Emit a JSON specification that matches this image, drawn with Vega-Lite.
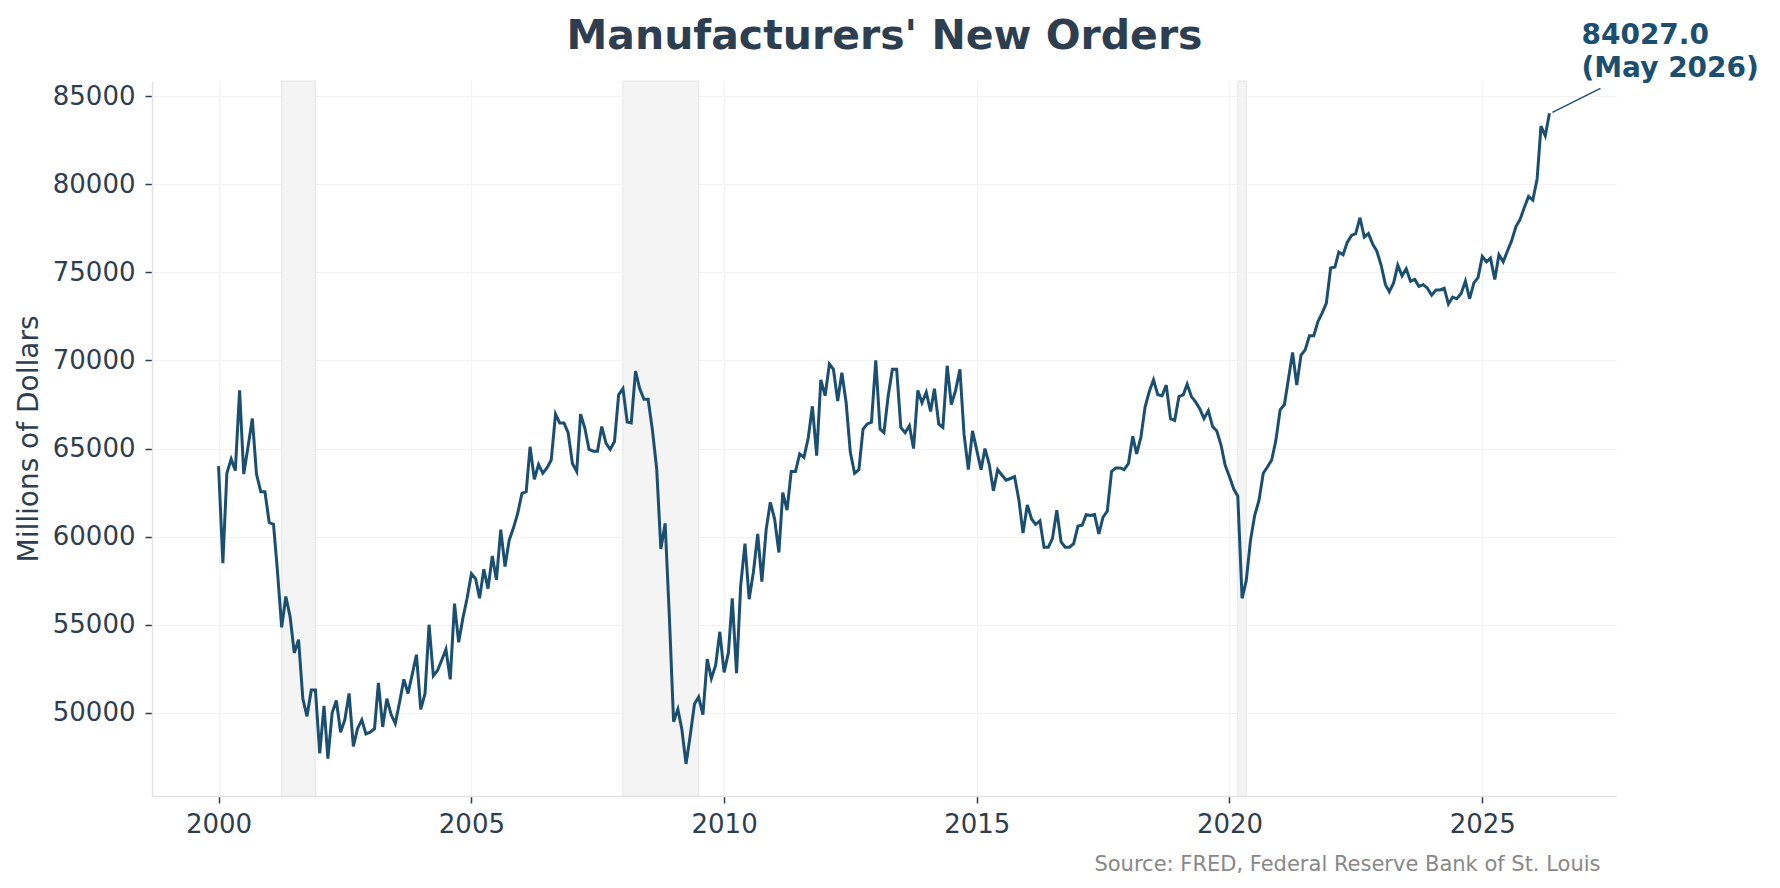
{
  "$schema": "https://vega.github.io/schema/vega-lite/v6.json",
  "autosize": {"type": "none"},
  "width": 1464,
  "height": 715,
  "padding": {"left": 152, "top": 81, "right": 164, "bottom": 92},
  "background": "white",
  "data": {
    "name": "orders",
    "format": {"parse": {"date": "date:'%Y-%m'", "rec_end": "date:'%Y-%m'"}}
  },
  "datasets": {
    "orders": [
      {"date": "2000-01", "value": 64000}, {"date": "2000-02", "value": 58500}, {"date": "2000-03", "value": 63600}, {"date": "2000-04", "value": 64400},
      {"date": "2000-05", "value": 63750}, {"date": "2000-06", "value": 68300}, {"date": "2000-07", "value": 63550}, {"date": "2000-08", "value": 65100},
      {"date": "2000-09", "value": 66700}, {"date": "2000-10", "value": 63550}, {"date": "2000-11", "value": 62550}, {"date": "2000-12", "value": 62550},
      {"date": "2001-01", "value": 60800}, {"date": "2001-02", "value": 60700}, {"date": "2001-03", "value": 58100}, {"date": "2001-04", "value": 54850, "rec_end": "2001-12"},
      {"date": "2001-05", "value": 56600}, {"date": "2001-06", "value": 55450}, {"date": "2001-07", "value": 53400}, {"date": "2001-08", "value": 54150},
      {"date": "2001-09", "value": 50800}, {"date": "2001-10", "value": 49800}, {"date": "2001-11", "value": 51300}, {"date": "2001-12", "value": 51300},
      {"date": "2002-01", "value": 47700}, {"date": "2002-02", "value": 50400}, {"date": "2002-03", "value": 47400}, {"date": "2002-04", "value": 50000},
      {"date": "2002-05", "value": 50700}, {"date": "2002-06", "value": 48900}, {"date": "2002-07", "value": 49600}, {"date": "2002-08", "value": 51100},
      {"date": "2002-09", "value": 48100}, {"date": "2002-10", "value": 49100}, {"date": "2002-11", "value": 49600}, {"date": "2002-12", "value": 48800},
      {"date": "2003-01", "value": 48900}, {"date": "2003-02", "value": 49100}, {"date": "2003-03", "value": 51700}, {"date": "2003-04", "value": 49200},
      {"date": "2003-05", "value": 50800}, {"date": "2003-06", "value": 49900}, {"date": "2003-07", "value": 49400}, {"date": "2003-08", "value": 50600},
      {"date": "2003-09", "value": 51900}, {"date": "2003-10", "value": 51100}, {"date": "2003-11", "value": 52200}, {"date": "2003-12", "value": 53300},
      {"date": "2004-01", "value": 50200}, {"date": "2004-02", "value": 51100}, {"date": "2004-03", "value": 55000}, {"date": "2004-04", "value": 52100},
      {"date": "2004-05", "value": 52400}, {"date": "2004-06", "value": 53000}, {"date": "2004-07", "value": 53600}, {"date": "2004-08", "value": 51900},
      {"date": "2004-09", "value": 56200}, {"date": "2004-10", "value": 54000}, {"date": "2004-11", "value": 55400}, {"date": "2004-12", "value": 56500},
      {"date": "2005-01", "value": 57900}, {"date": "2005-02", "value": 57600}, {"date": "2005-03", "value": 56500}, {"date": "2005-04", "value": 58150},
      {"date": "2005-05", "value": 57050}, {"date": "2005-06", "value": 58900}, {"date": "2005-07", "value": 57550}, {"date": "2005-08", "value": 60400},
      {"date": "2005-09", "value": 58300}, {"date": "2005-10", "value": 59800}, {"date": "2005-11", "value": 60500}, {"date": "2005-12", "value": 61300},
      {"date": "2006-01", "value": 62450}, {"date": "2006-02", "value": 62550}, {"date": "2006-03", "value": 65100}, {"date": "2006-04", "value": 63250},
      {"date": "2006-05", "value": 64100}, {"date": "2006-06", "value": 63600}, {"date": "2006-07", "value": 63900}, {"date": "2006-08", "value": 64350},
      {"date": "2006-09", "value": 66950}, {"date": "2006-10", "value": 66450}, {"date": "2006-11", "value": 66450}, {"date": "2006-12", "value": 65900},
      {"date": "2007-01", "value": 64150}, {"date": "2007-02", "value": 63700}, {"date": "2007-03", "value": 66950}, {"date": "2007-04", "value": 66150},
      {"date": "2007-05", "value": 64950}, {"date": "2007-06", "value": 64850}, {"date": "2007-07", "value": 64850}, {"date": "2007-08", "value": 66250},
      {"date": "2007-09", "value": 65300}, {"date": "2007-10", "value": 64950}, {"date": "2007-11", "value": 65400}, {"date": "2007-12", "value": 68050},
      {"date": "2008-01", "value": 68400, "rec_end": "2009-07"}, {"date": "2008-02", "value": 66500}, {"date": "2008-03", "value": 66450}, {"date": "2008-04", "value": 69400},
      {"date": "2008-05", "value": 68400}, {"date": "2008-06", "value": 67800}, {"date": "2008-07", "value": 67800}, {"date": "2008-08", "value": 66050},
      {"date": "2008-09", "value": 63850}, {"date": "2008-10", "value": 59300}, {"date": "2008-11", "value": 60750}, {"date": "2008-12", "value": 55550},
      {"date": "2009-01", "value": 49500}, {"date": "2009-02", "value": 50200}, {"date": "2009-03", "value": 49100}, {"date": "2009-04", "value": 47100},
      {"date": "2009-05", "value": 48700}, {"date": "2009-06", "value": 50500}, {"date": "2009-07", "value": 50900}, {"date": "2009-08", "value": 49900},
      {"date": "2009-09", "value": 53050}, {"date": "2009-10", "value": 51950}, {"date": "2009-11", "value": 52700}, {"date": "2009-12", "value": 54600},
      {"date": "2010-01", "value": 52300}, {"date": "2010-02", "value": 53400}, {"date": "2010-03", "value": 56500}, {"date": "2010-04", "value": 52250},
      {"date": "2010-05", "value": 57250}, {"date": "2010-06", "value": 59600}, {"date": "2010-07", "value": 56450}, {"date": "2010-08", "value": 58000},
      {"date": "2010-09", "value": 60150}, {"date": "2010-10", "value": 57450}, {"date": "2010-11", "value": 60400}, {"date": "2010-12", "value": 61950},
      {"date": "2011-01", "value": 61000}, {"date": "2011-02", "value": 59100}, {"date": "2011-03", "value": 62500}, {"date": "2011-04", "value": 61500},
      {"date": "2011-05", "value": 63700}, {"date": "2011-06", "value": 63700}, {"date": "2011-07", "value": 64700}, {"date": "2011-08", "value": 64500},
      {"date": "2011-09", "value": 65600}, {"date": "2011-10", "value": 67400}, {"date": "2011-11", "value": 64600}, {"date": "2011-12", "value": 68900},
      {"date": "2012-01", "value": 68000}, {"date": "2012-02", "value": 69800}, {"date": "2012-03", "value": 69500}, {"date": "2012-04", "value": 67700},
      {"date": "2012-05", "value": 69300}, {"date": "2012-06", "value": 67600}, {"date": "2012-07", "value": 64800}, {"date": "2012-08", "value": 63600},
      {"date": "2012-09", "value": 63800}, {"date": "2012-10", "value": 66100}, {"date": "2012-11", "value": 66400}, {"date": "2012-12", "value": 66500},
      {"date": "2013-01", "value": 70000}, {"date": "2013-02", "value": 66100}, {"date": "2013-03", "value": 65900}, {"date": "2013-04", "value": 68000},
      {"date": "2013-05", "value": 69500}, {"date": "2013-06", "value": 69500}, {"date": "2013-07", "value": 66200}, {"date": "2013-08", "value": 65900},
      {"date": "2013-09", "value": 66300}, {"date": "2013-10", "value": 65000}, {"date": "2013-11", "value": 68300}, {"date": "2013-12", "value": 67600},
      {"date": "2014-01", "value": 68200}, {"date": "2014-02", "value": 67100}, {"date": "2014-03", "value": 68400}, {"date": "2014-04", "value": 66400},
      {"date": "2014-05", "value": 66200}, {"date": "2014-06", "value": 69700}, {"date": "2014-07", "value": 67500}, {"date": "2014-08", "value": 68300},
      {"date": "2014-09", "value": 69500}, {"date": "2014-10", "value": 65800}, {"date": "2014-11", "value": 63800}, {"date": "2014-12", "value": 66000},
      {"date": "2015-01", "value": 64900}, {"date": "2015-02", "value": 63800}, {"date": "2015-03", "value": 65000}, {"date": "2015-04", "value": 64100},
      {"date": "2015-05", "value": 62600}, {"date": "2015-06", "value": 63800}, {"date": "2015-07", "value": 63500}, {"date": "2015-08", "value": 63200},
      {"date": "2015-09", "value": 63300}, {"date": "2015-10", "value": 63400}, {"date": "2015-11", "value": 62100}, {"date": "2015-12", "value": 60200},
      {"date": "2016-01", "value": 61800}, {"date": "2016-02", "value": 61000}, {"date": "2016-03", "value": 60700}, {"date": "2016-04", "value": 60900},
      {"date": "2016-05", "value": 59400}, {"date": "2016-06", "value": 59400}, {"date": "2016-07", "value": 59900}, {"date": "2016-08", "value": 61500},
      {"date": "2016-09", "value": 59700}, {"date": "2016-10", "value": 59400}, {"date": "2016-11", "value": 59400}, {"date": "2016-12", "value": 59600},
      {"date": "2017-01", "value": 60600}, {"date": "2017-02", "value": 60650}, {"date": "2017-03", "value": 61250}, {"date": "2017-04", "value": 61200},
      {"date": "2017-05", "value": 61250}, {"date": "2017-06", "value": 60150}, {"date": "2017-07", "value": 61100}, {"date": "2017-08", "value": 61450},
      {"date": "2017-09", "value": 63700}, {"date": "2017-10", "value": 63900}, {"date": "2017-11", "value": 63900}, {"date": "2017-12", "value": 63800},
      {"date": "2018-01", "value": 64150}, {"date": "2018-02", "value": 65700}, {"date": "2018-03", "value": 64700}, {"date": "2018-04", "value": 65650},
      {"date": "2018-05", "value": 67350}, {"date": "2018-06", "value": 68250}, {"date": "2018-07", "value": 68900}, {"date": "2018-08", "value": 68050},
      {"date": "2018-09", "value": 68000}, {"date": "2018-10", "value": 68600}, {"date": "2018-11", "value": 66700}, {"date": "2018-12", "value": 66600},
      {"date": "2019-01", "value": 67950}, {"date": "2019-02", "value": 68050}, {"date": "2019-03", "value": 68650}, {"date": "2019-04", "value": 67950},
      {"date": "2019-05", "value": 67650}, {"date": "2019-06", "value": 67250}, {"date": "2019-07", "value": 66700}, {"date": "2019-08", "value": 67150},
      {"date": "2019-09", "value": 66250}, {"date": "2019-10", "value": 66000}, {"date": "2019-11", "value": 65200}, {"date": "2019-12", "value": 64050},
      {"date": "2020-01", "value": 63400}, {"date": "2020-02", "value": 62700}, {"date": "2020-03", "value": 62300, "rec_end": "2020-05"}, {"date": "2020-04", "value": 56500},
      {"date": "2020-05", "value": 57500}, {"date": "2020-06", "value": 59800}, {"date": "2020-07", "value": 61200}, {"date": "2020-08", "value": 62050},
      {"date": "2020-09", "value": 63600}, {"date": "2020-10", "value": 63950}, {"date": "2020-11", "value": 64350}, {"date": "2020-12", "value": 65450},
      {"date": "2021-01", "value": 67200}, {"date": "2021-02", "value": 67500}, {"date": "2021-03", "value": 68900}, {"date": "2021-04", "value": 70450},
      {"date": "2021-05", "value": 68600}, {"date": "2021-06", "value": 70300}, {"date": "2021-07", "value": 70600}, {"date": "2021-08", "value": 71400},
      {"date": "2021-09", "value": 71400}, {"date": "2021-10", "value": 72200}, {"date": "2021-11", "value": 72700}, {"date": "2021-12", "value": 73250},
      {"date": "2022-01", "value": 75250}, {"date": "2022-02", "value": 75300}, {"date": "2022-03", "value": 76150}, {"date": "2022-04", "value": 76000},
      {"date": "2022-05", "value": 76700}, {"date": "2022-06", "value": 77100}, {"date": "2022-07", "value": 77200}, {"date": "2022-08", "value": 78100},
      {"date": "2022-09", "value": 77000}, {"date": "2022-10", "value": 77200}, {"date": "2022-11", "value": 76600}, {"date": "2022-12", "value": 76200},
      {"date": "2023-01", "value": 75400}, {"date": "2023-02", "value": 74300}, {"date": "2023-03", "value": 73900}, {"date": "2023-04", "value": 74400},
      {"date": "2023-05", "value": 75400}, {"date": "2023-06", "value": 74800}, {"date": "2023-07", "value": 75200}, {"date": "2023-08", "value": 74500},
      {"date": "2023-09", "value": 74600}, {"date": "2023-10", "value": 74200}, {"date": "2023-11", "value": 74300}, {"date": "2023-12", "value": 74100},
      {"date": "2024-01", "value": 73700}, {"date": "2024-02", "value": 74000}, {"date": "2024-03", "value": 74000}, {"date": "2024-04", "value": 74100},
      {"date": "2024-05", "value": 73200}, {"date": "2024-06", "value": 73600}, {"date": "2024-07", "value": 73500}, {"date": "2024-08", "value": 73800},
      {"date": "2024-09", "value": 74500}, {"date": "2024-10", "value": 73500}, {"date": "2024-11", "value": 74400}, {"date": "2024-12", "value": 74700},
      {"date": "2025-01", "value": 75900}, {"date": "2025-02", "value": 75600}, {"date": "2025-03", "value": 75800}, {"date": "2025-04", "value": 74600},
      {"date": "2025-05", "value": 76000}, {"date": "2025-06", "value": 75600}, {"date": "2025-07", "value": 76200}, {"date": "2025-08", "value": 76800},
      {"date": "2025-09", "value": 77600}, {"date": "2025-10", "value": 78000}, {"date": "2025-11", "value": 78700}, {"date": "2025-12", "value": 79300},
      {"date": "2026-01", "value": 79100}, {"date": "2026-02", "value": 80300}, {"date": "2026-03", "value": 83300}, {"date": "2026-04", "value": 82750},
      {"date": "2026-05", "value": 84027, "label": "84027.0\n(May 2026)"}
    ]
  },
  "resolve": {"axis": {"x": "independent"}},
  "layer": [
    {
      "transform": [{"filter": "isValid(datum.rec_end)"}],
      "mark": {"type": "rect", "fill": "#f4f4f4", "stroke": "#e6e6e6", "strokeWidth": 1},
      "encoding": {
        "x": {
          "field": "date",
          "type": "temporal",
          "scale": {"domain": [{"year": 1998, "month": 9, "date": 7}, {"year": 2027, "month": 8, "date": 25}], "nice": false},
          "axis": null
        },
        "x2": {"field": "rec_end"}
      }
    },
    {
      "mark": {"type": "line", "color": "#1b4f72", "strokeWidth": 3},
      "encoding": {
        "x": {
          "field": "date",
          "type": "temporal",
          "scale": {"domain": [{"year": 1998, "month": 9, "date": 7}, {"year": 2027, "month": 8, "date": 25}], "nice": false},
          "axis": {
            "values": [{"year": 2000}, {"year": 2005}, {"year": 2010}, {"year": 2015}, {"year": 2020}, {"year": 2025}],
            "format": "%Y",
            "labelFontSize": 26,
            "labelColor": "#2c3e50",
            "labelPadding": 8,
            "labelFlush": false,
            "labelOverlap": false,
            "tickSize": 7,
            "tickColor": "#2c3e50",
            "tickWidth": 1.5,
            "domainColor": "#e3e3e3",
            "domainWidth": 1.5,
            "grid": true,
            "gridColor": "#f2f2f2",
            "gridWidth": 1.2,
            "title": "Source: FRED, Federal Reserve Bank of St. Louis",
            "titleFontSize": 21,
            "titleFontWeight": "normal",
            "titleColor": "#888888",
            "titleX": 1448,
            "titleY": 74,
            "titleAlign": "right",
            "titleBaseline": "alphabetic"
          }
        },
        "y": {
          "field": "value",
          "type": "quantitative",
          "scale": {"domain": [45280, 85860], "zero": false, "nice": false},
          "axis": {
            "values": [50000, 55000, 60000, 65000, 70000, 75000, 80000, 85000],
            "format": "d",
            "labelFontSize": 26,
            "labelColor": "#2c3e50",
            "labelPadding": 10,
            "tickSize": 7,
            "tickColor": "#2c3e50",
            "tickWidth": 1.5,
            "domainColor": "#e3e3e3",
            "domainWidth": 1.5,
            "grid": true,
            "gridColor": "#f2f2f2",
            "gridWidth": 1.2,
            "title": "Millions of Dollars",
            "titleFontSize": 28,
            "titleFontWeight": "normal",
            "titleColor": "#2c3e50",
            "titleAngle": 270,
            "titleX": -115,
            "titleY": 357.5,
            "titleAlign": "center",
            "titleBaseline": "alphabetic"
          }
        }
      }
    },
    {
      "transform": [{"filter": "isValid(datum.label)"}],
      "mark": {"type": "rule", "color": "#1b4f72", "strokeWidth": 1.3, "clip": false, "xOffset": 3, "yOffset": -1, "x2Offset": 51, "y2Offset": -25},
      "encoding": {
        "x": {
          "field": "date",
          "type": "temporal",
          "scale": {"domain": [{"year": 1998, "month": 9, "date": 7}, {"year": 2027, "month": 8, "date": 25}], "nice": false},
          "axis": null
        },
        "y": {"field": "value", "type": "quantitative"},
        "x2": {"field": "date"},
        "y2": {"field": "value"}
      }
    },
    {
      "transform": [{"filter": "isValid(datum.label)"}],
      "mark": {
        "type": "text",
        "align": "left",
        "baseline": "alphabetic",
        "clip": false,
        "dx": 32,
        "dy": -69,
        "fontSize": 28,
        "fontWeight": "bold",
        "color": "#1b4f72",
        "lineBreak": "\n",
        "lineHeight": 33
      },
      "encoding": {
        "x": {
          "field": "date",
          "type": "temporal",
          "scale": {"domain": [{"year": 1998, "month": 9, "date": 7}, {"year": 2027, "month": 8, "date": 25}], "nice": false},
          "axis": {
            "orient": "top",
            "labels": false,
            "ticks": false,
            "domain": false,
            "grid": false,
            "title": "Manufacturers' New Orders",
            "titleFontSize": 41,
            "titleFontWeight": "bold",
            "titleColor": "#2c3e50",
            "titleX": 732,
            "titleY": -33,
            "titleAlign": "center",
            "titleBaseline": "alphabetic"
          }
        },
        "y": {"field": "value", "type": "quantitative"},
        "text": {"field": "label"}
      }
    }
  ],
  "config": {
    "view": {"stroke": null},
    "font": "DejaVu Sans"
  }
}
